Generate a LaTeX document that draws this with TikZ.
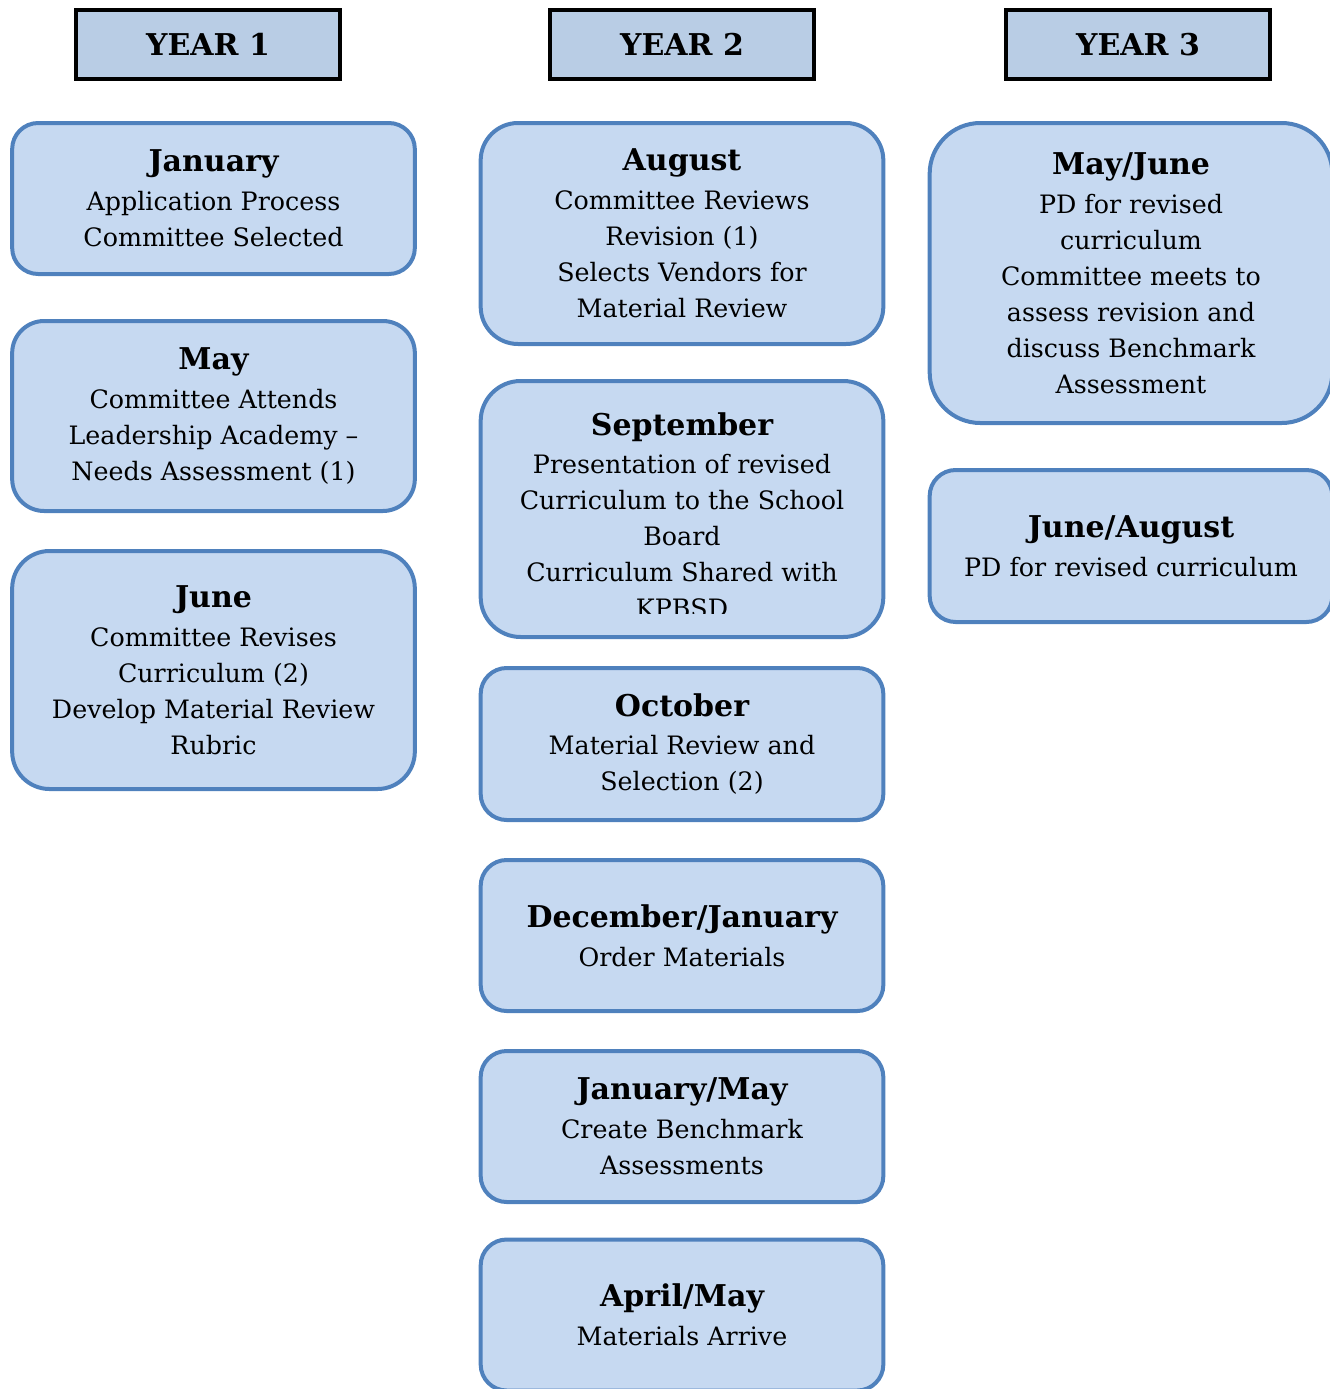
\documentclass[tikz,border=0pt]{standalone}
\usepackage{fontspec}
\setmainfont{DejaVu Serif}
\definecolor{boxfill}{HTML}{C6D9F1}
\definecolor{boxline}{HTML}{4F81BD}
\definecolor{headfill}{HTML}{B9CDE5}
\tikzset{
  yearbox/.style={draw=black, fill=headfill, line width=3.4pt, minimum width=198pt, minimum height=52pt, inner sep=0pt, font=\fontsize{22.5}{26}\selectfont\bfseries},
  monthbox/.style={draw=boxline, fill=boxfill, line width=3pt, align=center, minimum width=302pt, inner sep=0pt, font=\fontsize{19}{27}\selectfont},
}
\newcommand{\mtitle}[1]{{\fontsize{22.5}{27}\selectfont\bfseries #1}\\[2pt]}
\begin{document}
\begin{tikzpicture}[x=0.75pt,y=0.75pt,yscale=-1,xscale=1]
\path [use as bounding box, clip] (0,0) rectangle (1330,1389);
% year headers
\node (y1) [yearbox] at (208,44.5) {YEAR 1};
\node (y2) [yearbox] at (682,44.5) {YEAR 2};
\node (y3) [yearbox] at (1138,44.5) {YEAR 3};
% year 1
\node (jan) [monthbox, minimum height=113.25pt, rounded corners=19.5pt] at (213.5,198.5) {\mtitle{January}Application Process\\Committee Selected};
\node (may) [monthbox, minimum height=142.5pt, rounded corners=24pt] at (213.5,416) {\mtitle{May}Committee Attends\\Leadership Academy --\\Needs Assessment (1)};
\node (jun) [monthbox, minimum height=178.5pt, rounded corners=28pt] at (213.5,670) {\mtitle{June}Committee Revises\\Curriculum (2)\\Develop Material Review\\Rubric};
% year 2
\node (aug) [monthbox, minimum height=165.75pt, rounded corners=28pt] at (682,233.5) {\mtitle{August}Committee Reviews\\Revision (1)\\Selects Vendors for\\Material Review};
\node (sep) [monthbox, minimum height=192pt, rounded corners=30pt] at (682,509) {};
\begin{scope}
  \clip (478,379) rectangle (886,613);
  \node (septext) [align=center, inner sep=0pt, anchor=north, font=\fontsize{19}{27}\selectfont] at (682,412) {\mtitle{September}Presentation of revised\\Curriculum to the School\\Board\\Curriculum Shared with\\KPBSD};
\end{scope}
\node (oct) [monthbox, minimum height=114pt, rounded corners=19.5pt] at (682,744) {\mtitle{October}Material Review and\\Selection (2)};
\node (decjan) [monthbox, minimum height=113.25pt, rounded corners=19.5pt] at (682,935.5) {\mtitle{December/January}Order Materials};
\node (janmay) [monthbox, minimum height=113.25pt, rounded corners=19.5pt] at (682,1126.5) {\mtitle{January/May}Create Benchmark\\Assessments};
\node (aprmay) [monthbox, minimum height=113.25pt, rounded corners=19.5pt] at (682,1315) {\mtitle{April/May}Materials Arrive};
% year 3
\node (mayjun) [monthbox, minimum height=225pt, rounded corners=38pt] at (1131,273) {\mtitle{May/June}PD for revised\\curriculum\\Committee meets to\\assess revision and\\discuss Benchmark\\Assessment};
\node (junaug) [monthbox, minimum height=114pt, rounded corners=19.5pt] at (1131,546) {\mtitle{June/August}PD for revised curriculum};
\end{tikzpicture}
\end{document}
